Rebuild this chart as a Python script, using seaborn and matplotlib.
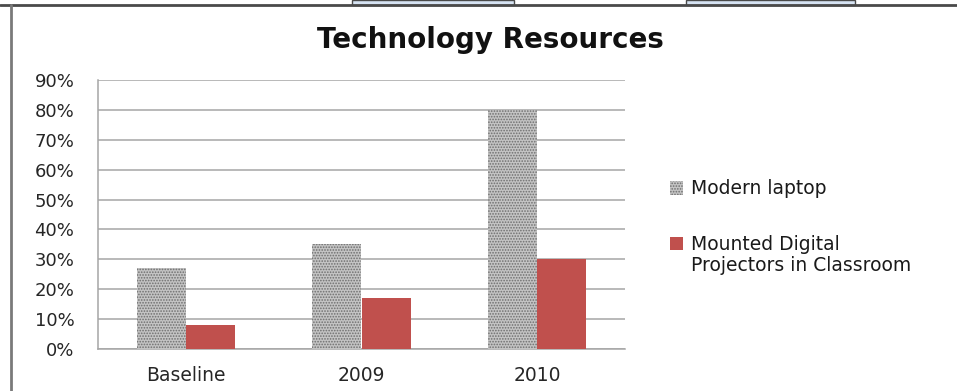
import matplotlib
matplotlib.use("Agg")
import matplotlib.pyplot as plt
from matplotlib.patches import Rectangle
from matplotlib.lines import Line2D
import seaborn as sns
import pandas as pd

# Chart data
categories = ["Baseline", "2009", "2010"]
series_names = ["Modern laptop", "Mounted Digital Projectors in Classroom"]
laptop_values = [27, 35, 80]
projector_values = [8, 17, 30]
y_ticks = [0, 10, 20, 30, 40, 50, 60, 70, 80, 90]
y_tick_labels = [f"{v}%" for v in y_ticks]

df = pd.DataFrame({
    "Period": categories * 2,
    "Series": [series_names[0]] * 3 + [series_names[1]] * 3,
    "Value": laptop_values + projector_values,
})

sns.set_theme(style="white")
plt.rcParams["font.family"] = ["DejaVu Sans"]
plt.rcParams["hatch.color"] = "#6e6e6e"
plt.rcParams["hatch.linewidth"] = 0.8

W, H = 957, 391
fig = plt.figure(figsize=(W / 100, H / 100), dpi=100)
fig.patch.set_facecolor("white")

ax = fig.add_axes([98 / W, 1 - 349 / H, (625 - 98) / W, (349 - 80) / H])

red = "#C0504D"
sns.barplot(data=df, x="Period", y="Value", hue="Series",
            palette=["#c4c4c4", red], width=0.56, gap=0,
            saturation=1, ax=ax, legend=False, zorder=3)

# dotted texture for the laptop bars
for patch in ax.containers[0]:
    patch.set_hatch("......")
    patch.set_edgecolor("#6e6e6e")
    patch.set_linewidth(0)
for patch in ax.containers[1]:
    patch.set_edgecolor(red)
    patch.set_linewidth(0)

text_color = "#262626"
ax.set_ylim(0, 90)
ax.set_yticks(y_ticks)
ax.set_yticklabels(y_tick_labels, fontsize=13, color=text_color)
ax.tick_params(axis="x", labelsize=13.5, colors=text_color, pad=12, length=0)
ax.tick_params(axis="y", pad=17, length=0)
ax.set_xlabel("")
ax.set_ylabel("")
ax.yaxis.grid(True, color="#a6a6a6", linewidth=1.1, zorder=0)
ax.set_axisbelow(True)
for side in ["top", "right"]:
    ax.spines[side].set_visible(False)
for side in ["left", "bottom"]:
    ax.spines[side].set_color("#a6a6a6")
    ax.spines[side].set_linewidth(1.1)

fig.text(490 / W, 1 - 40 / H, "Technology Resources", ha="center", va="center",
         fontsize=20, fontweight="bold", color="#111111")

# legend: the projector label wraps onto a second line under its first line
first_line, second_line = "Mounted Digital", "Projectors in Classroom"
handles = [ax.containers[0][0], ax.containers[1][0]]
leg = fig.legend(handles, [series_names[0], first_line], loc="upper left",
                 bbox_to_anchor=(662 / W, 1 - 172 / H), frameon=False,
                 fontsize=13.5, handlelength=0.7, handleheight=0.7,
                 handletextpad=0.45, labelspacing=1.95, borderaxespad=0)
for t in leg.get_texts():
    t.set_color("#1a1a1a")

fig.canvas.draw()
bb = leg.get_texts()[1].get_window_extent()
inv = fig.transFigure.inverted()
x0, y0 = inv.transform((bb.x0, bb.y0))
fig.text(x0, y0 - 21 / H, second_line, ha="left", va="bottom",
         fontsize=13.5, color="#1a1a1a")

# surrounding page frame
fig.add_artist(Line2D([0, 1], [1 - 5 / H, 1 - 5 / H], transform=fig.transFigure,
                      color="#4a4a4a", linewidth=2))
fig.add_artist(Line2D([11 / W, 11 / W], [0, 1 - 5 / H], transform=fig.transFigure,
                      color="#7a7a7a", linewidth=2))
for xa, xb in [(352, 514), (686, 855)]:
    fig.add_artist(Rectangle((xa / W, 1 - 5 / H), (xb - xa) / W, 5 / H,
                             transform=fig.transFigure, facecolor="#d6e3f3",
                             edgecolor="#4a4a4a", linewidth=1))

fig.savefig("out.png", dpi=100)
